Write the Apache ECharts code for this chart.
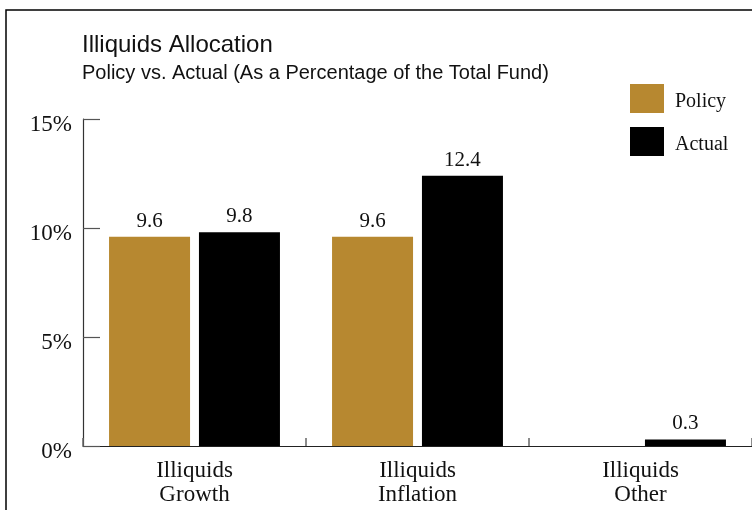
<!DOCTYPE html>
<html>
<head>
<meta charset="utf-8">
<script src="https://cdn.jsdelivr.net/npm/echarts@6/dist/echarts.min.js"></script>
<style>
  html, body { margin: 0; padding: 0; background: #fff; }
  #chart { width: 752px; height: 510px; }
</style>
</head>
<body>
<div id="chart"></div>
<script>
// Illiquid asset classes shown along the x axis
const categories = ['Illiquids\nGrowth', 'Illiquids\nInflation', 'Illiquids\nOther'];
// Target weights (% of total fund)
const policyValues = [9.6, 9.6, 0];
// Current weights (% of total fund)
const actualValues = [9.8, 12.4, 0.3];
// Value-axis ticks
const yTicks = [0, 5, 10, 15];

const GOLD = '#B78830';
const BLACK = '#000000';
const SERIF = '"Liberation Serif", "DejaVu Serif", serif';
const SANS = '"Liberation Sans", Arial, sans-serif';

const chart = echarts.init(document.getElementById('chart'), null, { renderer: 'canvas' });

const valueLabel = {
  show: true,
  position: 'top',
  distance: 5,
  fontFamily: SERIF,
  fontSize: 21,
  color: '#111',
  formatter: p => (p.value === 0 ? '' : p.value.toFixed(1))
};

chart.setOption({
  animation: false,
  backgroundColor: '#ffffff',
  graphic: [{
    type: 'rect',
    shape: { x: 6, y: 10, width: 900, height: 700 },
    style: { fill: 'none', stroke: '#000', lineWidth: 1.5 },
    silent: true
  }],
  title: [
    {
      text: 'Illiquids Allocation',
      left: 82, top: 33,
      padding: 0,
      textStyle: { fontFamily: SANS, fontSize: 24, fontWeight: 'normal', color: '#111' }
    },
    {
      text: 'Policy vs. Actual (As a Percentage of the Total Fund)',
      left: 82, top: 63,
      padding: 0,
      textStyle: { fontFamily: SANS, fontSize: 20, fontWeight: 'normal', color: '#111' }
    }
  ],
  legend: {
    orient: 'vertical',
    left: 630, top: 84,
    padding: 0,
    itemWidth: 34, itemHeight: 29, itemGap: 14,
    icon: 'rect',
    formatter: '{t|{name}}',
    textStyle: {
      fontFamily: SERIF, fontSize: 20, color: '#111', padding: [0, 0, 0, 6],
      rich: { t: { fontFamily: SERIF, fontSize: 20, color: '#111', padding: [6, 0, 0, 0] } }
    },
    data: ['Policy', 'Actual']
  },
  grid: { left: 83, top: 119, width: 672, bottom: 64, containLabel: false },
  xAxis: {
    type: 'category',
    data: categories,
    axisLine: { show: true, lineStyle: { color: '#222', width: 1.2 } },
    axisTick: { show: true, inside: true, length: 8, lineStyle: { color: '#666', width: 1.5 } },
    axisLabel: {
      fontFamily: SERIF, fontSize: 23, color: '#111',
      lineHeight: 24, margin: 13
    }
  },
  yAxis: {
    type: 'value',
    min: yTicks[0], max: yTicks[yTicks.length - 1], interval: 5,
    axisLine: { show: true, lineStyle: { color: '#333', width: 1.2 } },
    axisTick: { show: true, inside: true, length: 17, lineStyle: { color: '#555', width: 1.2 } },
    splitLine: { show: false },
    axisLabel: {
      formatter: '{value}%',
      fontFamily: SERIF, fontSize: 23, color: '#111',
      margin: 11, verticalAlign: 'top', lineHeight: 12
    }
  },
  series: [
    {
      name: 'Policy', type: 'bar',
      data: policyValues,
      barWidth: 81, barGap: '11%',
      itemStyle: { color: GOLD },
      label: valueLabel
    },
    {
      name: 'Actual', type: 'bar',
      data: actualValues,
      barWidth: 81, barGap: '11%',
      itemStyle: { color: BLACK },
      label: valueLabel
    }
  ]
});
</script>
</body>
</html>
